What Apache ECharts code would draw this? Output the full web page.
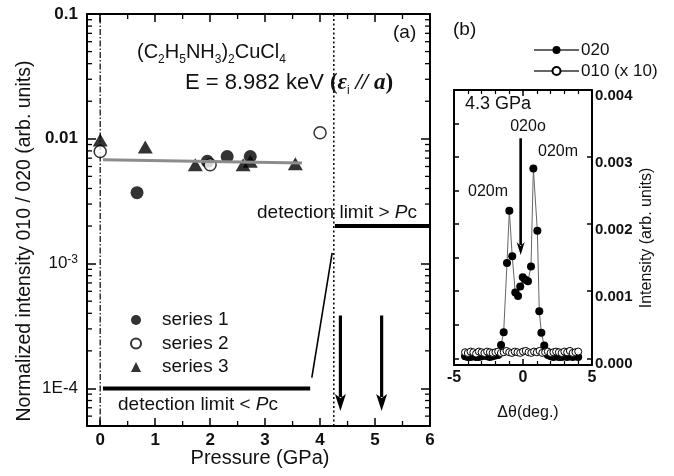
<!DOCTYPE html>
<html><head><meta charset="utf-8">
<script src="https://cdn.jsdelivr.net/npm/echarts@6/dist/echarts.min.js"></script>
<style>html,body{margin:0;padding:0;background:#fff}#c{width:674px;height:476px}</style>
</head><body><div id="c"></div>
<script>
// ---------- Panel (a) data ----------
const pressureS1 = [0.67, 1.95, 2.31, 2.73];
const ratioS1    = [0.0037, 0.0066, 0.0072, 0.0072];
const pressureS2 = [0, 2.0, 4.0];
const ratioS2    = [0.0079, 0.0062, 0.0112];
const pressureS3 = [0, 0.82, 1.73, 2.6, 2.73, 3.55];
const ratioS3    = [0.0098, 0.0086, 0.0062, 0.0062, 0.0066, 0.0063];
const fitP = [0.05, 3.67];
const fitR = [0.0068, 0.0064];
const limitLowP  = [0.05, 3.82];
const limitLowR  = [1e-4, 1e-4];
const slopeP     = [3.85, 4.22];
const slopeR     = [1.22e-4, 1.22e-3];
const limitHighP = [4.27, 6];
const limitHighR = [2e-3, 2e-3];
const zeroP = 0;
const pcP = 4.25;
const arrowsP = [4.37, 5.12];
const arrowTopR = 3.84e-4;
const arrowBottomR = 6.6e-5;
const pressureRange = [-0.24, 6];
const ratioRange = [5e-5, 0.1];
const ratioTickExp = [-4, -3, -2, -1];
const ratioTickText = ['{r|1E-4}', '{r|10}{sup|-3}', '{b|0.01}', '{b|0.1}'];
const pressureMinorTicks = [0.5, 1.5, 2.5, 3.5, 4.5, 5.5];
const ratioMinorTicks = [6e-5, 7e-5, 8e-5, 9e-5,
  2e-4, 3e-4, 4e-4, 5e-4, 6e-4, 7e-4, 8e-4, 9e-4,
  2e-3, 3e-3, 4e-3, 5e-3, 6e-3, 7e-3, 8e-3, 9e-3,
  2e-2, 3e-2, 4e-2, 5e-2, 6e-2, 7e-2, 8e-2, 9e-2];

// ---------- Panel (b) data ----------
const theta020 = [-4.2,-4.0,-3.8,-3.6,-3.4,-3.2,-3.0,-2.8,-2.6,-2.4,-2.2,-2.0,-1.8,
  -1.59,-1.40,-1.16,-0.99,-0.78,-0.56,-0.36,-0.20,-0.02,0.17,0.36,0.58,0.75,1.04,1.18,1.33,1.54,
  1.8,2.0,2.2,2.4,2.6,2.8,3.0,3.2,3.4,3.6,3.8,4.0];
const int020 = [0.00003,0.00002,0.00002,0.00003,0.00002,0.00002,0.00003,0.00004,0.00003,0.00002,0.00003,0.00004,0.00005,
  0.00020,0.00039,0.00142,0.00220,0.00152,0.00098,0.00093,0.00107,0.00121,0.00117,0.00115,0.00137,0.00283,0.00190,0.00070,0.00038,0.00019,
  0.00005,0.00003,0.00002,0.00003,0.00002,0.00002,0.00003,0.00002,0.00003,0.00002,0.00003,0.00002];
const theta010 = [-4.2,-4.0,-3.8,-3.6,-3.4,-3.2,-3.0,-2.8,-2.6,-2.4,-2.2,-2.0,-1.8,-1.6,-1.4,-1.2,-1.0,-0.8,-0.6,-0.4,-0.2,
  0.0,0.2,0.4,0.6,0.8,1.0,1.2,1.4,1.6,1.8,2.0,2.2,2.4,2.6,2.8,3.0,3.2,3.4,3.6,3.8,4.0];
const int010 = [0.00009,0.00008,0.00010,0.00009,0.00007,0.00010,0.00009,0.00008,0.00010,0.00009,0.00008,0.00009,0.00010,0.00008,0.00009,0.00011,0.00009,0.00008,0.00010,0.00009,0.00008,
  0.00010,0.00011,0.00009,0.00008,0.00010,0.00009,0.00011,0.00008,0.00009,0.00010,0.00008,0.00009,0.00010,0.00009,0.00008,0.00010,0.00009,0.00011,0.00008,0.00009,0.00010];
const arrow020oTheta = -0.17;
const arrow020oTop = 0.00328;
const arrow020oBottom = 0.00154;
const thetaRange = [-5, 5];
const intRange = [-0.0001, 0.004];

// ---------- build ----------
const FF = '"Liberation Sans", Arial, sans-serif';
const zip = (a, b) => a.map((v, i) => [v, b[i]]);
const black = '#000';

const axA_x = (pos, labels) => ({
  gridIndex: 0, type: 'value', position: pos, min: pressureRange[0], max: pressureRange[1], splitNumber: 6,
  axisLine: {show: true, onZero: false, lineStyle: {color: black, width: 2}},
  axisTick: {show: true, inside: true, length: 8, lineStyle: {color: black, width: 1.5}},
  axisLabel: {show: labels, showMinLabel: false, formatter: v => (v < 0 ? '' : String(v)),
    fontFamily: FF, fontSize: 17, fontWeight: 'bold', color: '#111', margin: 6},
  splitLine: {show: false}
});
const axA_y = (pos, labels) => ({
  gridIndex: 0, type: 'log', logBase: 10, position: pos, min: ratioRange[0], max: ratioRange[1],
  axisLine: {show: true, onZero: false, lineStyle: {color: black, width: 2}},
  axisTick: {show: true, inside: true, length: 9, lineStyle: {color: black, width: 1.5}},
  axisLabel: {show: labels, margin: 9, color: '#111',
    formatter: v => {
      const e = Math.log10(v); const r = Math.round(e);
      if (Math.abs(e - r) > 1e-6) return '';
      const i = ratioTickExp.indexOf(r); return i < 0 ? '' : ratioTickText[i];
    },
    rich: {
      r: {fontFamily: FF, fontSize: 17, color: '#111', lineHeight: 20},
      b: {fontFamily: FF, fontSize: 17, fontWeight: 'bold', color: '#111', lineHeight: 20},
      sup: {fontFamily: FF, fontSize: 12, color: '#111', verticalAlign: 'top', lineHeight: 12}
    }},
  splitLine: {show: false}
});
const axB_x = (pos, labels) => ({
  gridIndex: 1, type: 'value', position: pos, min: thetaRange[0], max: thetaRange[1], interval: 5,
  axisLine: {show: true, onZero: false, lineStyle: {color: black, width: 2}},
  axisTick: {show: true, inside: true, length: 6, lineStyle: {color: black, width: 1.5}},
  minorTick: {show: true, splitNumber: 5, length: 4, lineStyle: {color: black, width: 1.2}},
  axisLabel: {show: labels, fontFamily: FF, fontSize: 16, fontWeight: 'bold', color: '#111', margin: 5},
  splitLine: {show: false}
});
const axB_y = (pos, labels, split) => ({
  gridIndex: 1, type: 'value', position: pos, min: intRange[0], max: intRange[1], splitNumber: split,
  axisLine: {show: true, onZero: false, lineStyle: {color: black, width: 2}},
  axisTick: {show: true, inside: true, length: 5, lineStyle: {color: black, width: 1.5}},
  axisLabel: {show: labels, showMinLabel: false, formatter: v => (v < 0 ? '' : v.toFixed(3)),
    fontFamily: FF, fontSize: 15, fontWeight: 'bold', color: '#111', margin: 3, verticalAlign: 'top', lineHeight: 12},
  splitLine: {show: false}
});

const vline = (p, type, width) => ({
  type: 'line', xAxisIndex: 0, yAxisIndex: 0, silent: true, symbol: 'none', z: 2,
  data: [[p, ratioRange[0]], [p, ratioRange[1]]],
  lineStyle: {color: black, width: width, type: type}
});
const seg = (P, R, width, color, z) => ({
  type: 'line', xAxisIndex: 0, yAxisIndex: 0, silent: true, symbol: 'none', z: z || 3,
  data: zip(P, R), lineStyle: {color: color || black, width: width}
});

const arrowRender = (headLen, headW, lw) => (params, api) => {
  const x = api.value(0);
  const p1 = api.coord([x, api.value(1)]);
  const p2 = api.coord([x, api.value(2)]);
  return {type: 'group', children: [
    {type: 'line', shape: {x1: p1[0], y1: p1[1], x2: p2[0], y2: p2[1] - headLen + 3}, style: {stroke: black, lineWidth: lw}},
    {type: 'polygon', shape: {points: [[p2[0] - headW / 2, p2[1] - headLen], [p2[0], p2[1] - headLen + 4], [p2[0] + headW / 2, p2[1] - headLen], [p2[0], p2[1]]]}, style: {fill: black}}
  ]};
};

const minorData = pressureMinorTicks.map(v => [v, 1e-3, 0]).concat(ratioMinorTicks.map(v => [1, v, 1]));

const txt = (x, y, text, size, extra) => ({
  type: 'text', x: x, y: y, z: 100, silent: true,
  style: Object.assign({text: text, fontFamily: FF, fontSize: size, fill: '#111', align: 'left', verticalAlign: 'middle'}, extra || {})
});

const option = {
  backgroundColor: '#fff',
  animation: false,
  grid: [
    {left: 87, top: 14, width: 343, height: 412, show: false},
    {left: 454, top: 90, width: 138, height: 275, show: false}
  ],
  xAxis: [axA_x('bottom', true), axA_x('top', false), axB_x('bottom', true), axB_x('top', false)],
  yAxis: [axA_y('left', true), axA_y('right', false), axB_y('right', true, 4), axB_y('left', false, 8)],
  legend: [
    {data: ['series 1', 'series 2', 'series 3'], orient: 'vertical', left: 125, top: 305,
      itemWidth: 10, itemHeight: 10, itemGap: 3.5, selectedMode: false,
      textStyle: {fontFamily: FF, fontSize: 19, color: '#111', lineHeight: 20, padding: [0, 0, 0, 16]}},
    {data: ['020', '010 (x 10)'], orient: 'vertical', left: 528, top: 36,
      itemWidth: 45, itemHeight: 10, itemGap: 3, selectedMode: false,
      textStyle: {fontFamily: FF, fontSize: 17, color: '#111', lineHeight: 18, padding: [0, 0, 0, -3]}}
  ],
  series: [
    vline(zeroP, [6, 2, 1.5, 2], 1.2),
    vline(pcP, [2, 2.5], 1.5),
    seg(limitLowP, limitLowR, 4),
    seg(slopeP, slopeR, 1.6),
    seg(limitHighP, limitHighR, 4),
    {name: 'series 1', type: 'scatter', xAxisIndex: 0, yAxisIndex: 0, symbol: 'circle', symbolSize: 13, z: 4,
      itemStyle: {color: black}, data: zip(pressureS1, ratioS1)},
    {name: 'series 3', type: 'scatter', xAxisIndex: 0, yAxisIndex: 0, symbol: 'triangle', symbolSize: [15, 13], z: 4,
      itemStyle: {color: black}, data: zip(pressureS3, ratioS3)},
    {name: 'series 2', type: 'scatter', xAxisIndex: 0, yAxisIndex: 0, symbol: 'circle', symbolSize: 12, z: 5,
      itemStyle: {color: '#fff', borderColor: black, borderWidth: 1.5}, data: zip(pressureS2, ratioS2)},
    seg(fitP, fitR, 3, '#8c8c8c', 6),
    {type: 'custom', xAxisIndex: 0, yAxisIndex: 0, silent: true, clip: false, z: 7,
      encode: {x: 0, y: [1, 2]}, data: arrowsP.map(p => [p, arrowTopR, arrowBottomR]),
      renderItem: arrowRender(17, 11, 3.2)},
    {type: 'custom', xAxisIndex: 0, yAxisIndex: 0, silent: true, clip: false, z: 8,
      dimensions: ['x', 'y', 'k'], encode: {x: 0, y: 1}, data: minorData,
      renderItem: (params, api) => {
        const cs = params.coordSys; const kind = api.value(2);
        const p = api.coord([api.value(0), api.value(1)]);
        const st = {stroke: black, lineWidth: 1.3};
        if (kind === 0) {
          return {type: 'group', children: [
            {type: 'line', shape: {x1: p[0], y1: cs.y + cs.height, x2: p[0], y2: cs.y + cs.height - 5}, style: st},
            {type: 'line', shape: {x1: p[0], y1: cs.y, x2: p[0], y2: cs.y + 5}, style: st}]};
        }
        return {type: 'group', children: [
          {type: 'line', shape: {x1: cs.x, y1: p[1], x2: cs.x + 5, y2: p[1]}, style: st},
          {type: 'line', shape: {x1: cs.x + cs.width, y1: p[1], x2: cs.x + cs.width - 5, y2: p[1]}, style: st}]};
      }},
    {name: '020', type: 'line', xAxisIndex: 2, yAxisIndex: 2, symbol: 'circle', symbolSize: 8, z: 4,
      itemStyle: {color: black}, lineStyle: {color: '#666', width: 1}, data: zip(theta020, int020)},
    {name: '010 (x 10)', type: 'line', xAxisIndex: 2, yAxisIndex: 2, symbol: 'circle', symbolSize: 7, z: 5,
      itemStyle: {color: '#fff', borderColor: black, borderWidth: 1}, lineStyle: {color: '#666', width: 1},
      data: zip(theta010, int010)},
    {type: 'custom', xAxisIndex: 2, yAxisIndex: 2, silent: true, clip: false, z: 7,
      encode: {x: 0, y: [1, 2]}, data: [[arrow020oTheta, arrow020oTop, arrow020oBottom]],
      renderItem: arrowRender(13, 8, 2.6)}
  ],
  graphic: [
    txt(137, 52, '{n|(C}{s|2}{n|H}{s|5}{n|NH}{s|3}{n|)}{s|2}{n|CuCl}{s|4}', 20, {rich: {
      n: {fontFamily: FF, fontSize: 20, fill: '#111', lineHeight: 28},
      s: {fontFamily: FF, fontSize: 12, fill: '#111', verticalAlign: 'bottom', lineHeight: 14}}}),
    txt(185, 83, '{n|E = 8.982 keV }{g|(}{e|ε}{s|i}{e| // a}{g|)}', 22, {rich: {
      n: {fontFamily: FF, fontSize: 22, fill: '#111', lineHeight: 28},
      g: {fontFamily: '"Liberation Serif", serif', fontSize: 23, fontWeight: 'bold', fill: '#111', lineHeight: 28},
      e: {fontFamily: '"Liberation Serif", serif', fontSize: 23, fontWeight: 'bold', fontStyle: 'italic', fill: '#111', lineHeight: 28},
      s: {fontFamily: FF, fontSize: 12, fill: '#111', verticalAlign: 'bottom', lineHeight: 13}}}),
    txt(393, 33, '(a)', 19),
    txt(417, 213, '{n|detection limit > }{i|P}{n|c}', 19, {align: 'right', rich: {
      n: {fontFamily: FF, fontSize: 19, fill: '#111'}, i: {fontFamily: FF, fontSize: 19, fontStyle: 'italic', fill: '#111'}}}),
    txt(118, 405, '{n|detection limit < }{i|P}{n|c}', 19, {rich: {
      n: {fontFamily: FF, fontSize: 19, fill: '#111'}, i: {fontFamily: FF, fontSize: 19, fontStyle: 'italic', fill: '#111'}}}),
    Object.assign(txt(25, 241, 'Normalized intensity 010 / 020 (arb. units)', 19.5, {align: 'center'}), {rotation: Math.PI / 2}),
    txt(260, 458, 'Pressure (GPa)', 20, {align: 'center'}),
    txt(453, 30, '(b)', 19),
    txt(465, 104, '4.3 GPa', 18),
    txt(528, 127, '020o', 16, {align: 'center'}),
    txt(538, 152, '020m', 16),
    txt(468, 192, '020m', 16),
    txt(528, 413, 'Δθ(deg.)', 16, {align: 'center'}),
    Object.assign(txt(647, 238, 'Intensity (arb. units)', 16, {align: 'center'}), {rotation: Math.PI / 2})
  ]
};

const chart = echarts.init(document.getElementById('c'), null, {renderer: 'canvas'});
chart.setOption(option);
</script></body></html>
